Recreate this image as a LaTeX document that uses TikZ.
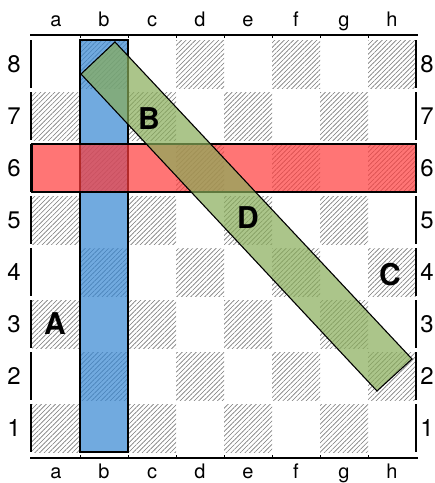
\documentclass[tikz,border=0pt]{standalone}
\usepackage{fontspec}
\setmainfont{TeX Gyre Heros}
\usetikzlibrary{patterns.meta}
\definecolor{ink}{HTML}{000000}
\definecolor{hatchgray}{HTML}{7A7A7A}
\definecolor{bandblue}{HTML}{3586D2}
\definecolor{bandred}{HTML}{FF3B3B}
\definecolor{bandgreen}{HTML}{88AC58}
\tikzset{
  darksq/.style={pattern={Lines[angle=45,distance=3.3pt,line width=.6pt]},pattern color=hatchgray},
  band/.style={draw=ink,line width=1.1pt,fill opacity=.7},
  rim/.style={draw=ink,line width=2pt},
  tick/.style={draw=ink,line width=.8pt},
  filelbl/.style={font=\fontsize{20}{20}\selectfont,text=ink,inner sep=0pt},
  ranklbl/.style={font=\fontsize{24}{24}\selectfont,text=ink,inner sep=0pt},
  zone/.style={font=\fontsize{30}{30}\selectfont\bfseries,text=ink,inner sep=0pt},
}
\begin{document}
\begin{tikzpicture}[x=1pt,y=-1pt]
  \useasboundingbox (0,0) rectangle (435,483);
  % dark squares
  \foreach \f in {0,...,7} {
    \foreach \r in {1,...,8} {
      \pgfmathtruncatemacro{\dk}{mod(\f+\r,2)}
      \ifnum\dk=1
        \fill[darksq] ({32+48*\f},{40+52*(8-\r)}) rectangle ++(48,48);
      \fi
    }
  }
  % frame
  \draw[rim] (30,35) -- (418,35);
  \draw[rim] (30,458) -- (418,458);
  \foreach \f in {1,...,7} {
    \draw[tick] ({32+48*\f},35) -- ++(0,3);
    \draw[tick] ({32+48*\f},458) -- ++(0,-3);
  }
  \foreach \r in {1,...,8} {
    \draw[rim] (31,{40+52*(8-\r)}) -- ++(0,48);
    \draw[rim] (416,{40+52*(8-\r)}) -- ++(0,48);
    \node[ranklbl] (l\r) at (14,{64+52*(8-\r)}) {\r};
    \node[ranklbl] (r\r) at (427,{64+52*(8-\r)}) {\r};
  }
  \foreach \c [count=\i from 0] in {a,b,c,d,e,f,g,h} {
    \node[filelbl,anchor=base] (t\c) at ({56+48*\i},26) {\c};
    \node[filelbl,anchor=base] (b\c) at ({56+48*\i},478) {\c};
  }
  % bands
  \filldraw[band,fill=bandblue] (80,40) rectangle (128,452);
  \filldraw[band,fill=bandred] (32,144) rectangle (416,192);
  \filldraw[band,fill=bandgreen] (115,42) -- (81,74) -- (377,391) -- (412,359) -- cycle;
  % zone letters
  \node[zone] (A) at (55,324) {A};
  \node[zone] (B) at (149,119) {B};
  \node[zone] (C) at (390,275) {C};
  \node[zone] (D) at (248,218) {D};
\end{tikzpicture}
\end{document}
